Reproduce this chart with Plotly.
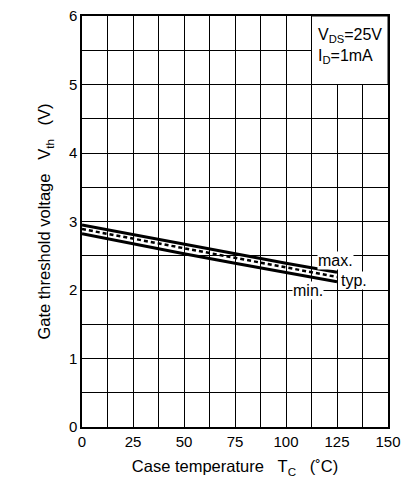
import plotly.graph_objects as go

temp_c = [0, 25, 50, 75, 100, 125]
vth_max = [2.95, 2.81, 2.66, 2.52, 2.39, 2.26]
vth_typ = [2.89, 2.75, 2.60, 2.46, 2.32, 2.19]
vth_min = [2.82, 2.67, 2.53, 2.39, 2.25, 2.12]

x_ticks = [0, 25, 50, 75, 100, 125, 150]
y_ticks = [0, 1, 2, 3, 4, 5, 6]

FONT = "Arial, Liberation Sans, sans-serif"
NB = "\u00a0"

fig = go.Figure()
fig.add_trace(go.Scatter(x=temp_c, y=vth_max, mode="lines",
                         line=dict(color="black", width=3), showlegend=False))
fig.add_trace(go.Scatter(x=temp_c, y=vth_min, mode="lines",
                         line=dict(color="black", width=3), showlegend=False))
fig.add_trace(go.Scatter(x=temp_c, y=vth_typ, mode="lines",
                         line=dict(color="black", width=2.5, dash="4px,3px"), showlegend=False))

# white box behind condition text
fig.add_shape(type="rect", x0=112.5, x1=150, y0=5, y1=6, xref="x", yref="y",
              fillcolor="white", line=dict(color="black", width=1), layer="between")

fig.add_annotation(x=114.5, y=5.88, xref="x", yref="y", xanchor="left", yanchor="top",
                   text="V<sub>DS</sub>=25V<br>I<sub>D</sub>=1mA", showarrow=False, align="left",
                   font=dict(family=FONT, size=16, color="black"))

fig.add_annotation(x=124.3, y=2.43, xref="x", yref="y", text="max.", showarrow=False,
                   bgcolor="white", borderpad=0, font=dict(family=FONT, size=16, color="black"))
fig.add_annotation(x=133.4, y=2.14, xref="x", yref="y", text="typ.", showarrow=False,
                   bgcolor="white", borderpad=0, font=dict(family=FONT, size=16, color="black"))
fig.add_annotation(x=110.9, y=2.0, xref="x", yref="y", text="min.", showarrow=False,
                   bgcolor="white", borderpad=0, font=dict(family=FONT, size=16, color="black"))

fig.update_layout(
    width=397, height=471,
    margin=dict(l=74, r=17, t=8, b=52, autoexpand=False),
    paper_bgcolor="white", plot_bgcolor="white",
    font=dict(family=FONT, size=15, color="black"),
    xaxis=dict(range=[0, 150], tickvals=x_ticks, ticktext=[str(v) for v in x_ticks],
               showgrid=True, gridcolor="black", gridwidth=1,
               minor=dict(dtick=12.5, tick0=0, showgrid=True, gridcolor="black", gridwidth=1),
               showline=True, linecolor="black", linewidth=1.5, mirror=True,
               ticks="", zeroline=False, automargin=False, ticklabeloverflow="allow",
               title=dict(text=f"Case temperature{NB*3}T<sub>C</sub>{NB*3}(˚C)", standoff=12,
                          font=dict(family=FONT, size=16.5))),
    yaxis=dict(range=[0, 6], tickvals=y_ticks, ticktext=[str(v) for v in y_ticks],
               showgrid=True, gridcolor="black", gridwidth=1,
               minor=dict(dtick=0.5, tick0=0, showgrid=True, gridcolor="black", gridwidth=1),
               showline=True, linecolor="black", linewidth=1.5, mirror=True,
               ticks="", zeroline=False, automargin=False, ticklabeloverflow="allow",
               title=dict(text=f"Gate threshold voltage{NB*3}V<sub>th</sub>{NB*3}(V)", standoff=14,
                          font=dict(family=FONT, size=16.5))),
)

fig.write_html("out.html")
